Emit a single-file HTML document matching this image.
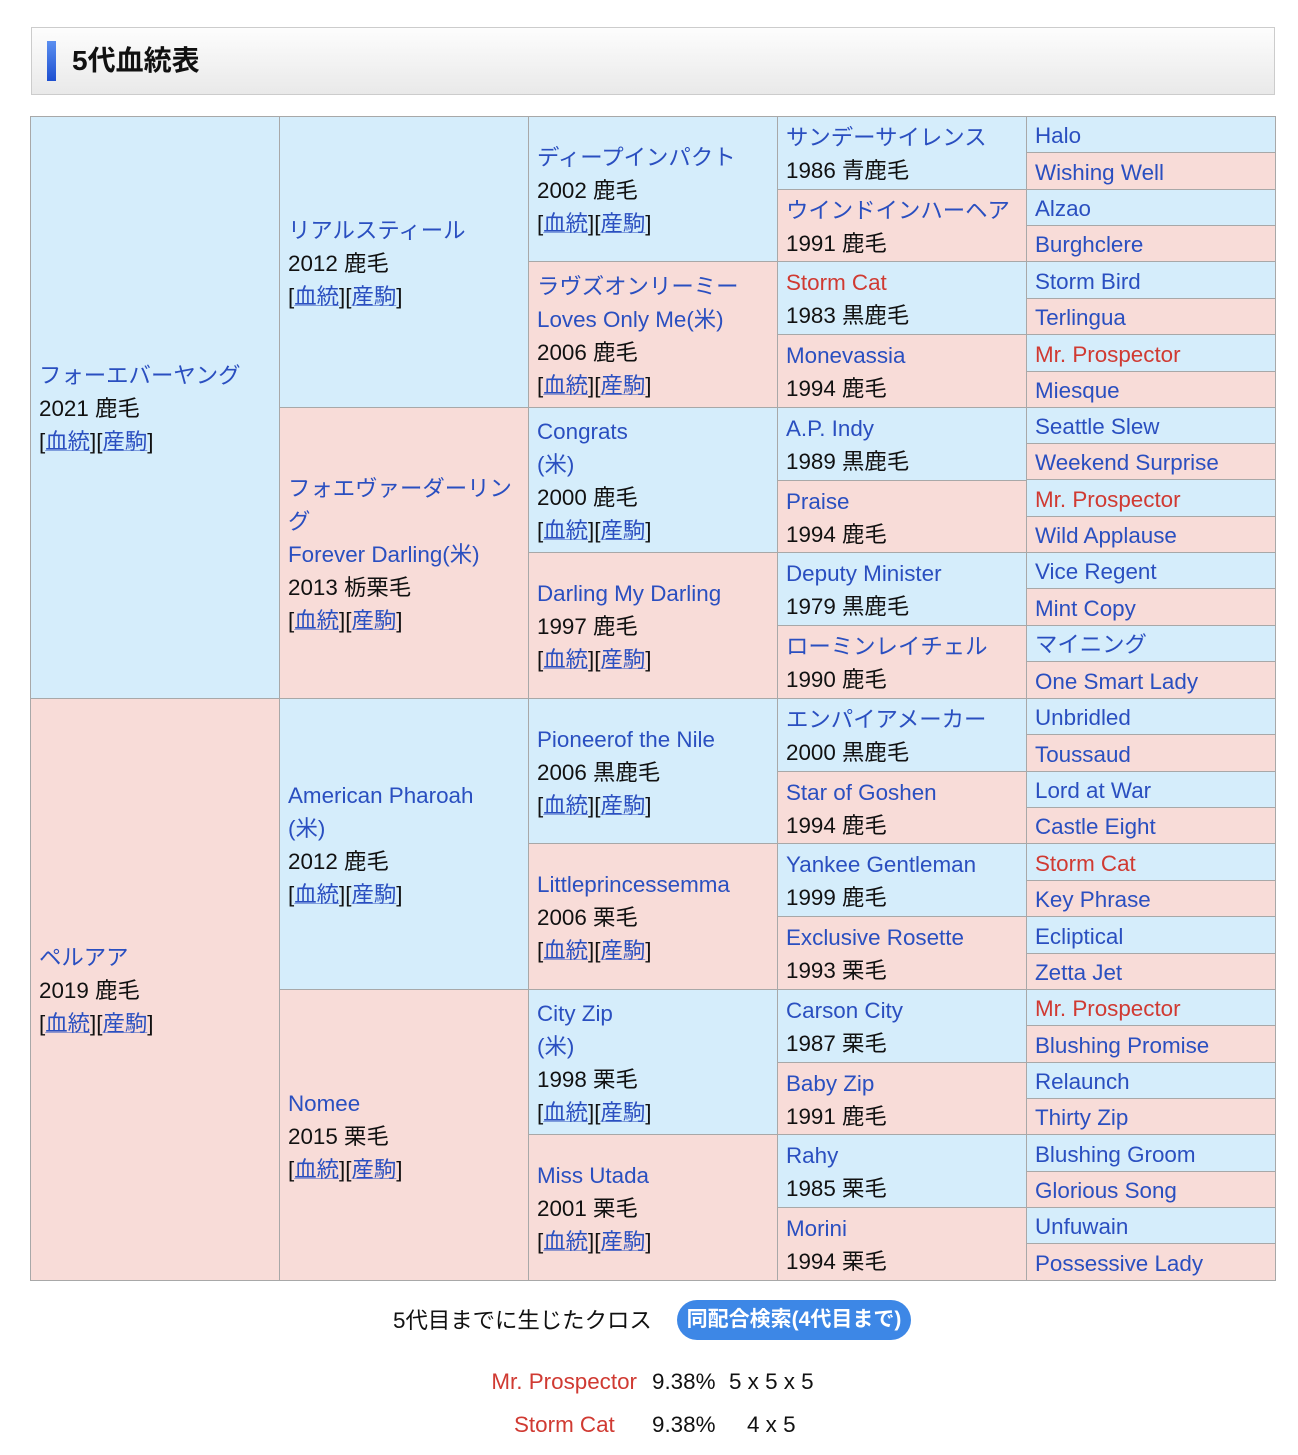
<!DOCTYPE html>
<html><head><meta charset="utf-8">
<style>
body{margin:0;background:#fff;width:1298px;height:1455px;position:relative;overflow:hidden;font-family:"Liberation Sans","Noto Sans CJK JP",sans-serif;color:#111}
.hd{position:absolute;left:31px;top:27px;width:1242px;height:66px;border:1px solid #ccc;background:linear-gradient(#fdfdfd,#e9e9e9)}
.bar{position:absolute;left:15px;top:13px;width:9px;height:40px;background:linear-gradient(#5b8ff0,#1d4fd0)}
.ttl{position:absolute;left:40px;top:14px;font-size:28px;font-weight:bold;line-height:38px;color:#111}
.tb{position:absolute;left:30px;top:116px;width:1246px;height:1165px;background:#a8a8a8}
.c{position:absolute;box-sizing:border-box;display:flex;flex-direction:column;justify-content:center;padding-left:8px;padding-top:2px;font-size:22.4px;line-height:33px;white-space:nowrap}
.b{background:#d5edfb}.p{background:#f8dcd8}
a,.l{color:#2a4fc0;text-decoration:none}
.u{text-decoration:underline;text-decoration-thickness:1px;text-decoration-color:rgba(42,79,192,.5)}
.r{color:#d03a32}
.t{position:absolute;font-size:22.4px;line-height:30px}
</style></head><body>
<div class="hd"><div class="bar"></div><div class="ttl">5代血統表</div></div>
<div class="tb">
<div class="c b" style="left:1px;top:1px;width:248px;height:581px"><span class="l">フォーエバーヤング</span><span>2021 鹿毛</span><span>[<span class="l u">血統</span>][<span class="l u">産駒</span>]</span></div>
<div class="c p" style="left:1px;top:583px;width:248px;height:581px"><span class="l">ペルアア</span><span>2019 鹿毛</span><span>[<span class="l u">血統</span>][<span class="l u">産駒</span>]</span></div>
<div class="c b" style="left:250px;top:1px;width:248px;height:290px"><span class="l">リアルスティール</span><span>2012 鹿毛</span><span>[<span class="l u">血統</span>][<span class="l u">産駒</span>]</span></div>
<div class="c p" style="left:250px;top:292px;width:248px;height:290px"><span class="l">フォエヴァーダーリン</span><span class="l">グ</span><span class="l">Forever Darling(米)</span><span>2013 栃栗毛</span><span>[<span class="l u">血統</span>][<span class="l u">産駒</span>]</span></div>
<div class="c b" style="left:250px;top:583px;width:248px;height:290px"><span class="l">American Pharoah</span><span class="l">(米)</span><span>2012 鹿毛</span><span>[<span class="l u">血統</span>][<span class="l u">産駒</span>]</span></div>
<div class="c p" style="left:250px;top:874px;width:248px;height:290px"><span class="l">Nomee</span><span>2015 栗毛</span><span>[<span class="l u">血統</span>][<span class="l u">産駒</span>]</span></div>
<div class="c b" style="left:499px;top:1px;width:248px;height:144px"><span class="l">ディープインパクト</span><span>2002 鹿毛</span><span>[<span class="l u">血統</span>][<span class="l u">産駒</span>]</span></div>
<div class="c p" style="left:499px;top:146px;width:248px;height:145px"><span class="l">ラヴズオンリーミー</span><span class="l">Loves Only Me(米)</span><span>2006 鹿毛</span><span>[<span class="l u">血統</span>][<span class="l u">産駒</span>]</span></div>
<div class="c b" style="left:499px;top:292px;width:248px;height:144px"><span class="l">Congrats</span><span class="l">(米)</span><span>2000 鹿毛</span><span>[<span class="l u">血統</span>][<span class="l u">産駒</span>]</span></div>
<div class="c p" style="left:499px;top:437px;width:248px;height:145px"><span class="l">Darling My Darling</span><span>1997 鹿毛</span><span>[<span class="l u">血統</span>][<span class="l u">産駒</span>]</span></div>
<div class="c b" style="left:499px;top:583px;width:248px;height:144px"><span class="l">Pioneerof the Nile</span><span>2006 黒鹿毛</span><span>[<span class="l u">血統</span>][<span class="l u">産駒</span>]</span></div>
<div class="c p" style="left:499px;top:728px;width:248px;height:145px"><span class="l">Littleprincessemma</span><span>2006 栗毛</span><span>[<span class="l u">血統</span>][<span class="l u">産駒</span>]</span></div>
<div class="c b" style="left:499px;top:874px;width:248px;height:144px"><span class="l">City Zip</span><span class="l">(米)</span><span>1998 栗毛</span><span>[<span class="l u">血統</span>][<span class="l u">産駒</span>]</span></div>
<div class="c p" style="left:499px;top:1019px;width:248px;height:145px"><span class="l">Miss Utada</span><span>2001 栗毛</span><span>[<span class="l u">血統</span>][<span class="l u">産駒</span>]</span></div>
<div class="c b" style="left:748px;top:1px;width:248px;height:72px"><span class="l">サンデーサイレンス</span><span>1986 青鹿毛</span></div>
<div class="c p" style="left:748px;top:74px;width:248px;height:71px"><span class="l">ウインドインハーヘア</span><span>1991 鹿毛</span></div>
<div class="c b" style="left:748px;top:146px;width:248px;height:72px"><span class="r">Storm Cat</span><span>1983 黒鹿毛</span></div>
<div class="c p" style="left:748px;top:219px;width:248px;height:72px"><span class="l">Monevassia</span><span>1994 鹿毛</span></div>
<div class="c b" style="left:748px;top:292px;width:248px;height:72px"><span class="l">A.P. Indy</span><span>1989 黒鹿毛</span></div>
<div class="c p" style="left:748px;top:365px;width:248px;height:71px"><span class="l">Praise</span><span>1994 鹿毛</span></div>
<div class="c b" style="left:748px;top:437px;width:248px;height:72px"><span class="l">Deputy Minister</span><span>1979 黒鹿毛</span></div>
<div class="c p" style="left:748px;top:510px;width:248px;height:72px"><span class="l">ローミンレイチェル</span><span>1990 鹿毛</span></div>
<div class="c b" style="left:748px;top:583px;width:248px;height:72px"><span class="l">エンパイアメーカー</span><span>2000 黒鹿毛</span></div>
<div class="c p" style="left:748px;top:656px;width:248px;height:71px"><span class="l">Star of Goshen</span><span>1994 鹿毛</span></div>
<div class="c b" style="left:748px;top:728px;width:248px;height:72px"><span class="l">Yankee Gentleman</span><span>1999 鹿毛</span></div>
<div class="c p" style="left:748px;top:801px;width:248px;height:72px"><span class="l">Exclusive Rosette</span><span>1993 栗毛</span></div>
<div class="c b" style="left:748px;top:874px;width:248px;height:72px"><span class="l">Carson City</span><span>1987 栗毛</span></div>
<div class="c p" style="left:748px;top:947px;width:248px;height:71px"><span class="l">Baby Zip</span><span>1991 鹿毛</span></div>
<div class="c b" style="left:748px;top:1019px;width:248px;height:72px"><span class="l">Rahy</span><span>1985 栗毛</span></div>
<div class="c p" style="left:748px;top:1092px;width:248px;height:72px"><span class="l">Morini</span><span>1994 栗毛</span></div>
<div class="c b" style="left:997px;top:1px;width:248px;height:35px"><span class="l">Halo</span></div>
<div class="c p" style="left:997px;top:37px;width:248px;height:36px"><span class="l">Wishing Well</span></div>
<div class="c b" style="left:997px;top:74px;width:248px;height:35px"><span class="l">Alzao</span></div>
<div class="c p" style="left:997px;top:110px;width:248px;height:35px"><span class="l">Burghclere</span></div>
<div class="c b" style="left:997px;top:146px;width:248px;height:36px"><span class="l">Storm Bird</span></div>
<div class="c p" style="left:997px;top:183px;width:248px;height:35px"><span class="l">Terlingua</span></div>
<div class="c b" style="left:997px;top:219px;width:248px;height:36px"><span class="r">Mr. Prospector</span></div>
<div class="c p" style="left:997px;top:256px;width:248px;height:35px"><span class="l">Miesque</span></div>
<div class="c b" style="left:997px;top:292px;width:248px;height:35px"><span class="l">Seattle Slew</span></div>
<div class="c p" style="left:997px;top:328px;width:248px;height:35px"><span class="l">Weekend Surprise</span></div>
<div class="c b" style="left:997px;top:364px;width:248px;height:36px"><span class="r">Mr. Prospector</span></div>
<div class="c p" style="left:997px;top:401px;width:248px;height:35px"><span class="l">Wild Applause</span></div>
<div class="c b" style="left:997px;top:437px;width:248px;height:35px"><span class="l">Vice Regent</span></div>
<div class="c p" style="left:997px;top:473px;width:248px;height:36px"><span class="l">Mint Copy</span></div>
<div class="c b" style="left:997px;top:510px;width:248px;height:35px"><span class="l">マイニング</span></div>
<div class="c p" style="left:997px;top:546px;width:248px;height:36px"><span class="l">One Smart Lady</span></div>
<div class="c b" style="left:997px;top:583px;width:248px;height:35px"><span class="l">Unbridled</span></div>
<div class="c p" style="left:997px;top:619px;width:248px;height:36px"><span class="l">Toussaud</span></div>
<div class="c b" style="left:997px;top:656px;width:248px;height:35px"><span class="l">Lord at War</span></div>
<div class="c p" style="left:997px;top:692px;width:248px;height:35px"><span class="l">Castle Eight</span></div>
<div class="c b" style="left:997px;top:728px;width:248px;height:36px"><span class="r">Storm Cat</span></div>
<div class="c p" style="left:997px;top:765px;width:248px;height:35px"><span class="l">Key Phrase</span></div>
<div class="c b" style="left:997px;top:801px;width:248px;height:36px"><span class="l">Ecliptical</span></div>
<div class="c p" style="left:997px;top:838px;width:248px;height:35px"><span class="l">Zetta Jet</span></div>
<div class="c b" style="left:997px;top:874px;width:248px;height:35px"><span class="r">Mr. Prospector</span></div>
<div class="c p" style="left:997px;top:910px;width:248px;height:36px"><span class="l">Blushing Promise</span></div>
<div class="c b" style="left:997px;top:947px;width:248px;height:35px"><span class="l">Relaunch</span></div>
<div class="c p" style="left:997px;top:983px;width:248px;height:35px"><span class="l">Thirty Zip</span></div>
<div class="c b" style="left:997px;top:1019px;width:248px;height:36px"><span class="l">Blushing Groom</span></div>
<div class="c p" style="left:997px;top:1056px;width:248px;height:35px"><span class="l">Glorious Song</span></div>
<div class="c b" style="left:997px;top:1092px;width:248px;height:35px"><span class="l">Unfuwain</span></div>
<div class="c p" style="left:997px;top:1128px;width:248px;height:36px"><span class="l">Possessive Lady</span></div>
</div>
<div class="t" style="left:393px;top:1306px">5代目までに生じたクロス</div>
<div style="position:absolute;left:677px;top:1300px;width:234px;height:40px;border-radius:20px;background:#3d87e6;color:#fff;font-weight:bold;font-size:21px;line-height:40px;text-align:center">同配合検索(4代目まで)</div>
<div class="t r" style="left:430px;top:1367px;width:207px;text-align:right">Mr. Prospector</div>
<div class="t" style="left:652px;top:1367px">9.38%</div>
<div class="t" style="left:729px;top:1367px">5 x 5 x 5</div>
<div class="t r" style="left:514px;top:1410px">Storm Cat</div>
<div class="t" style="left:652px;top:1410px">9.38%</div>
<div class="t" style="left:747px;top:1410px">4 x 5</div>
</body></html>
